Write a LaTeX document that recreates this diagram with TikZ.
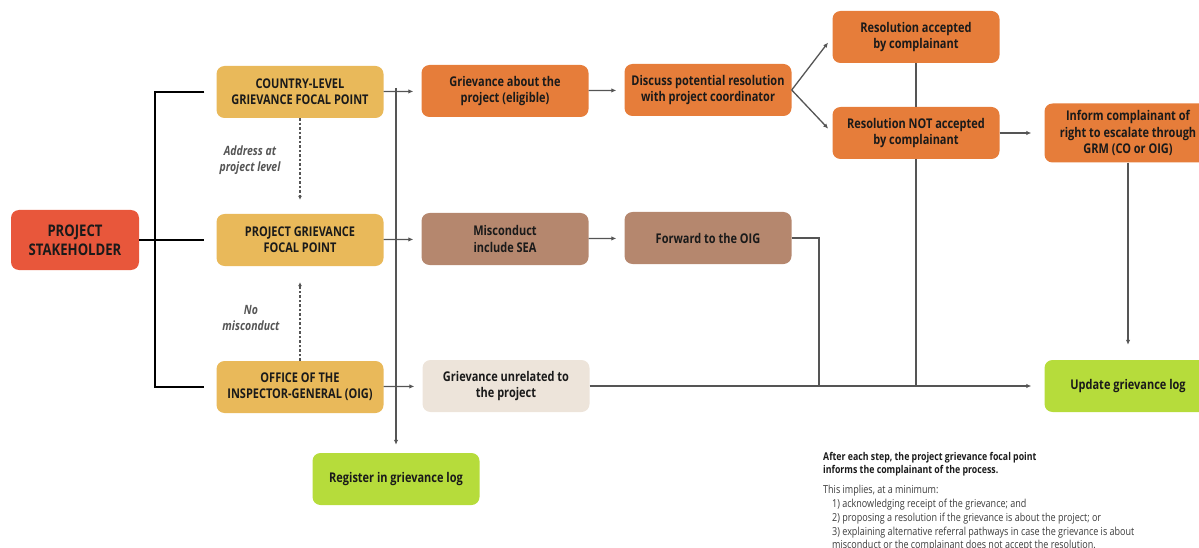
\documentclass[tikz,border=0pt]{standalone}
\usepackage{fontspec}
\setmainfont{Open Sans}[FakeStretch=0.82]
\usepackage{xcolor}
\usepackage{tikz}
\usetikzlibrary{arrows.meta, positioning, calc}
\definecolor{grmred}{HTML}{E8573B}
\definecolor{grmgold}{HTML}{E9B95A}
\definecolor{grmorange}{HTML}{E67D3A}
\definecolor{grmbrown}{HTML}{B5876E}
\definecolor{grmbeige}{HTML}{EDE4DA}
\definecolor{grmgreen}{HTML}{B6DC3B}
\definecolor{grmgrey}{HTML}{555555}
\definecolor{grmtext}{HTML}{1A1A1A}
\tikzset{
  box/.style={rounded corners=8pt, minimum width=167pt, minimum height=52pt,
              align=center, inner sep=2pt, text=grmtext,
              font=\bfseries\fontsize{13.4}{16.3}\selectfont},
  link/.style={grmgrey, line width=1.3pt},
  arrow/.style={link, -{Latex[length=5pt,width=4.5pt]}},
  dasharrow/.style={grmgrey, line width=1.1pt, dash pattern=on 2.5pt off 2pt,
                    -{Latex[length=4pt,width=4pt]}},
  bracket/.style={black, line width=2pt},
  lbl/.style={align=center, text=grmgrey, font=\bfseries\itshape\fontsize{12.8}{16}\selectfont},
  note/.style={anchor=north west, align=left, inner sep=0pt, text=grmtext}
}

\begin{document}
\begin{tikzpicture}[x=1pt, y=-1pt]
  \useasboundingbox (0,0) rectangle (1199,548);
  % entry point and focal points
  \node[box, fill=grmred, minimum width=128pt, minimum height=60pt,
        font=\bfseries\fontsize{16}{19}\selectfont] (sh) at (75,240) {PROJECT\\STAKEHOLDER};
  \node[box, fill=grmgold] (cl)  at (300,92)  {COUNTRY-LEVEL\\GRIEVANCE FOCAL POINT};
  \node[box, fill=grmgold] (pg)  at (300,240) {PROJECT GRIEVANCE\\FOCAL POINT};
  \node[box, fill=grmgold] (oig) at (300,387) {OFFICE OF THE\\INSPECTOR-GENERAL (OIG)};
  \node[lbl] (addr)  at (250,160) {Address at\\project level};
  \node[lbl] (nomis) at (251,318) {No\\misconduct};
  % grievance types
  \node[box, fill=grmorange] (gp)    at (505,91)  {Grievance about the\\project (eligible)};
  \node[box, fill=grmbrown]  (mis)   at (505,239) {Misconduct\\include SEA};
  \node[box, fill=grmbeige]  (unrel) at (506,386) {Grievance unrelated to\\the project};
  \node[box, fill=grmgreen]  (reg)   at (396,479) {Register in grievance log};
  % follow-up
  \node[box, fill=grmorange] (disc) at (708,90)  {Discuss potential resolution\\with project coordinator};
  \node[box, fill=grmbrown]  (fwd)  at (708,238) {Forward to the OIG};
  \node[box, fill=grmorange] (acc)  at (916,37)  {Resolution accepted\\by complainant};
  \node[box, fill=grmorange] (nacc) at (916,133) {Resolution NOT accepted\\by complainant};
  \node[box, fill=grmorange, minimum height=59pt] (inf) at (1128,133)
        {Inform complainant of\\right to escalate through\\GRM (CO or OIG)};
  \node[box, fill=grmgreen]  (upd)  at (1128,386) {Update grievance log};

  % connectors
  \coordinate (br) at (155,240);
  \draw[bracket, shorten <=12pt, shorten >=12pt] (cl.west) -| (br) |- (oig.west);
  \draw[bracket, shorten >=12pt] (sh.east) -- (pg.west);
  \draw[dasharrow, shorten >=14pt] (cl) -- (pg);
  \draw[dasharrow, shorten >=16pt] (oig) -- (pg);
  \coordinate (vtop) at (396,88);
  \draw[arrow, shorten >=8pt] (vtop) -- (reg.north);
  \draw[arrow, shorten >=8pt] (cl) -- (gp);
  \draw[arrow, shorten >=8pt] (pg) -- (mis);
  \draw[arrow, shorten >=8pt] (oig) -- (unrel);
  \draw[arrow, shorten >=8pt] (gp) -- (disc);
  \draw[arrow, shorten >=8pt] (mis) -- (fwd);
  \draw[arrow, shorten >=7pt] (disc.east) -- (acc.west);
  \draw[arrow, shorten >=6pt] (disc.east) -- (nacc.west);
  \draw[link] (acc) -- (nacc);
  \draw[arrow, shorten >=13pt] (nacc) -- (inf);
  \draw[arrow, shorten >=15pt] (inf) -- (upd);
  \coordinate (j1) at (819,386);
  \draw[link] (fwd.east) -| (j1);
  \coordinate (j2) at (nacc.south |- unrel.east);
  \draw[link] (nacc) -- (j2);
  \draw[arrow, shorten >=13pt] (unrel) -- (upd);

  % note
  \node[note, font=\bfseries\fontsize{10.7}{13}\selectfont] (nhead) at (823,452)
        {After each step, the project grievance focal point\\informs the complainant of the process.};
  \node[note, below=9pt of nhead.south west, anchor=north west,
        font=\fontsize{11}{13.8}\selectfont, text=grmtext!85] (nbody)
        {This implies, at a minimum:\\
         \hspace*{9pt}1) acknowledging receipt of the grievance; and\\
         \hspace*{9pt}2) proposing a resolution if the grievance is about the project; or\\
         \hspace*{9pt}3) explaining alternative referral pathways in case the grievance is about\\
         \hspace*{9pt}misconduct or the complainant does not accept the resolution.};
\end{tikzpicture}
\end{document}
